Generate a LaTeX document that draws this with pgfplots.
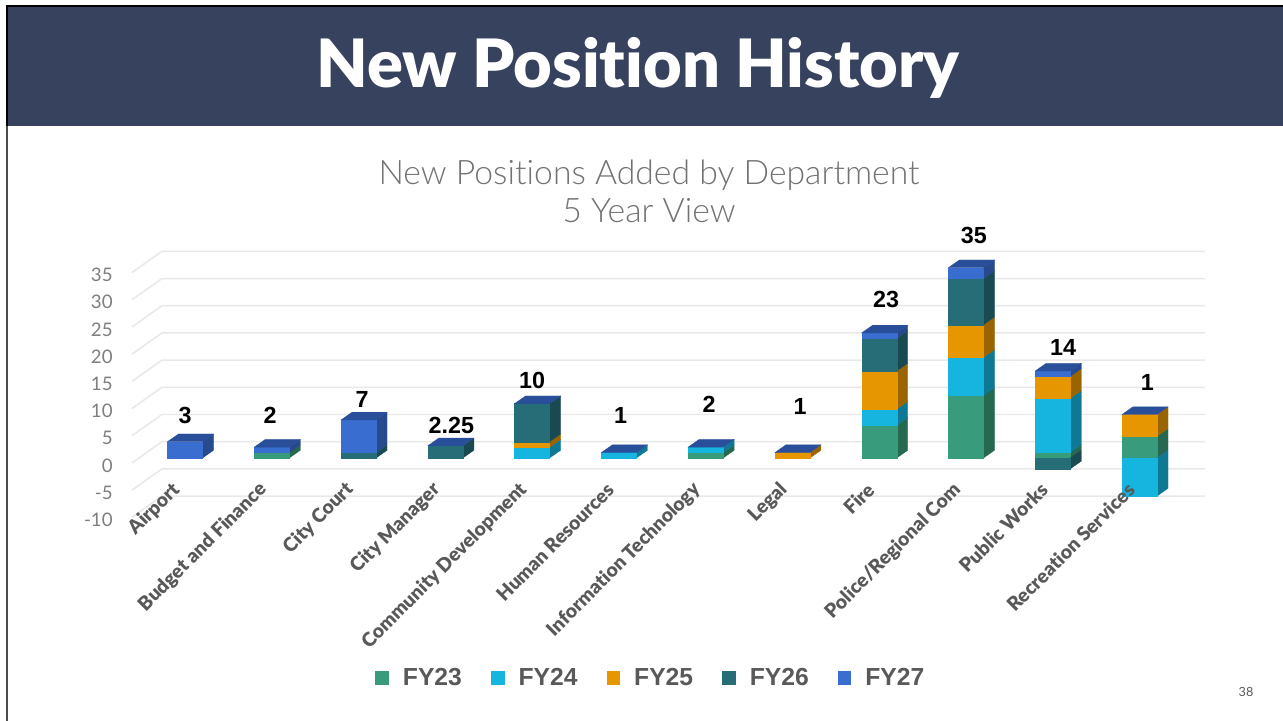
\documentclass[border=0pt]{standalone}
\usepackage{fontspec}
\usepackage{pgfplots}
\usepackage{pgfplotstable}
\pgfplotsset{compat=1.18}
\setmainfont{Lato}[Ligatures=NoCommon]
\newfontfamily\lightfont{Lato Light}[Ligatures=NoCommon]
\newfontfamily\blackfont{Lato Black}[Ligatures=NoCommon]
\newfontfamily\arialfont{Liberation Sans}

\definecolor{band}{HTML}{37425F}
\definecolor{gridc}{HTML}{E8E8E8}
\definecolor{tickc}{HTML}{7F7F7F}
\definecolor{labelc}{HTML}{595959}
\definecolor{FY23}{HTML}{389B7B}
\definecolor{FY24}{HTML}{16B5DF}
\definecolor{FY25}{HTML}{E69700}
\definecolor{FY26}{HTML}{266D78}
\definecolor{FY27}{HTML}{396DCF}
\definecolor{FY23side}{HTML}{266850}
\definecolor{FY24side}{HTML}{0F7895}
\definecolor{FY25side}{HTML}{9A6500}
\definecolor{FY26side}{HTML}{194A52}
\definecolor{FY27side}{HTML}{274A8C}
\definecolor{topface}{HTML}{2A4F9A}

% positions added per department and year
\pgfplotstableread{
cat FY23 FY24 FY25 FY26 FY27
0   0    0    0    0    3
1   1    0    0    0    1
2   0    0    0    1    6
3   0    0    0    2.25 0
4   0    2    1    7    0
5   0    1    0    0    0
6   1    1    0    0    0
7   0    0    1    0    0
8   6    3    7    6    1
9   11.5 7    6    8.5  2
10  1    10   4    -2   1
11  4    -7   4    0    0
}\datatable

\begin{document}
\begin{tikzpicture}[x=0.75pt,y=0.75pt]
\path[use as bounding box] (0,0) rectangle (1283,721);
\fill[white] (0,0) rectangle (1283,721);
\fill[band] (8,595) rectangle (1283,714);
\fill[black] (6,714) rectangle (1283,716);
\fill[black] (6,595) rectangle (8,716);
\fill[black!70] (6,0) rectangle (8,595);
\node[white,font=\fontsize{50pt}{54pt}\blackfont] at (638,653) {New Position History};
\node[labelc!85,font=\fontsize{25.3pt}{28.5pt}\lightfont,align=center] at (649,530)
  {New Positions Added by Department\\5 Year View};
\node[labelc,font=\fontsize{9.5pt}{11pt}\selectfont] at (1246,29) {38};

\begin{axis}[
  at={(99pt,152.37pt)}, anchor=south west,
  scale only axis, width=804.75pt, height=216.2pt,
  xmin=-0.611, xmax=11.755, ymin=-11, ymax=42,
  clip=false,
  axis on top,
  axis line style={draw=none},
  major tick length=0pt,
  tick style={draw=none},
  xtick={0,...,11},
  xticklabels={Airport,Budget and Finance,City Court,City Manager,Community Development,Human Resources,Information Technology,Legal,Fire,Police/Regional Com,Public Works,Recreation Services},
  xticklabel style={rotate=45,anchor=east,xshift=15.5pt,yshift=21pt,font=\fontsize{14.5pt}{16pt}\blackfont,text=labelc},
  ytick={-10,-5,...,35},
  yticklabel style={anchor=east,xshift=-11pt,yshift=-5.5pt,font=\fontsize{14pt}{16pt}\selectfont,text=tickc},
  /pgf/number format/assume math mode=true,
  legend columns=5,
  legend style={at={(0.484,-0.5555)},anchor=center,draw=none,fill=none,
    font=\fontsize{18.5pt}{20pt}\arialfont\bfseries,text=labelc,
    /tikz/every even column/.append style={column sep=20pt},
    /tikz/every odd column/.append style={column sep=9pt}},
  legend cell align=left,
]
% gridlines: front edge, then along the back wall
\pgfplotsforeachungrouped \v in {-10,-5,...,35}{
  \pgfmathsetmacro\yf{\v-0.9}
  \pgfmathsetmacro\yb{\v+3}
  \edef\tmp{\noexpand\addplot[gridc,line width=1.1pt,forget plot] coordinates {(-0.611,\yf)(-0.266,\yb)(11.755,\yb)};}
  \tmp
}
% bars, front and side faces per year, then the top face
\def\hw{0.202}\def\dx{0.127}\def\dy{1.42}
\pgfplotsforeachungrouped \i in {0,...,11}{
  \def\posc{0}\def\negc{0}
  \pgfmathsetmacro\xL{\i-\hw}
  \pgfmathsetmacro\xR{\i+\hw}
  \pgfmathsetmacro\xB{\i+\hw+\dx}
  \pgfmathsetmacro\xC{\i-\hw+\dx}
  \pgfplotsforeachungrouped \s in {FY23,FY24,FY25,FY26,FY27}{
    \pgfplotstablegetelem{\i}{\s}\of\datatable
    \let\val\pgfplotsretval
    \ifdim\val pt>0pt
      \let\lo\posc
      \pgfmathsetmacro\hi{\posc+\val}
      \let\posc\hi
    \else
      \let\hi\negc
      \pgfmathsetmacro\lo{\negc+\val}
      \let\negc\lo
    \fi
    \ifdim\val pt=0pt\else
      \pgfmathsetmacro\loB{\lo+\dy}
      \pgfmathsetmacro\hiB{\hi+\dy}
      \edef\tmp{\noexpand\addplot[draw=\s side,line width=0.2pt,fill=\s side,forget plot] coordinates {(\xR,\lo)(\xB,\loB)(\xB,\hiB)(\xR,\hi)} --cycle;}
      \tmp
      \edef\tmp{\noexpand\addplot[draw=\s,line width=0.2pt,fill=\s,forget plot] coordinates {(\xL,\lo)(\xR,\lo)(\xR,\hi)(\xL,\hi)} --cycle;}
      \tmp
    \fi
  }
  \pgfmathsetmacro\topB{\posc+\dy}
  \edef\tmp{\noexpand\addplot[draw=topface,line width=0.2pt,fill=topface,forget plot] coordinates {(\xL,\posc)(\xR,\posc)(\xB,\topB)(\xC,\topB)} --cycle;}
  \tmp
}
% totals above the bars
\addplot[draw=none,mark=none,forget plot,point meta=explicit symbolic,
  nodes near coords,
  nodes near coords style={anchor=center,inner sep=0pt,text=black,font=\fontsize{17.5pt}{19pt}\arialfont\bfseries}]
  coordinates {
  (0,7.9)[3] (0.98,7.9)[2] (2.04,10.85)[7] (3.07,6.07)[2.25] (4,14.3)[10] (5.02,7.9)[1]
  (6.04,9.9)[2] (7.09,9.4)[1] (8.08,29.2)[23] (9.09,41)[35] (10.12,20.4)[14] (11.09,13.8)[1]
  };
\addlegendimage{only marks,mark=square*,mark size=4.75pt,color=FY23}
\addlegendimage{only marks,mark=square*,mark size=4.75pt,color=FY24}
\addlegendimage{only marks,mark=square*,mark size=4.75pt,color=FY25}
\addlegendimage{only marks,mark=square*,mark size=4.75pt,color=FY26}
\addlegendimage{only marks,mark=square*,mark size=4.75pt,color=FY27}
\legend{FY23,FY24,FY25,FY26,FY27}
\end{axis}
\end{tikzpicture}
\end{document}
